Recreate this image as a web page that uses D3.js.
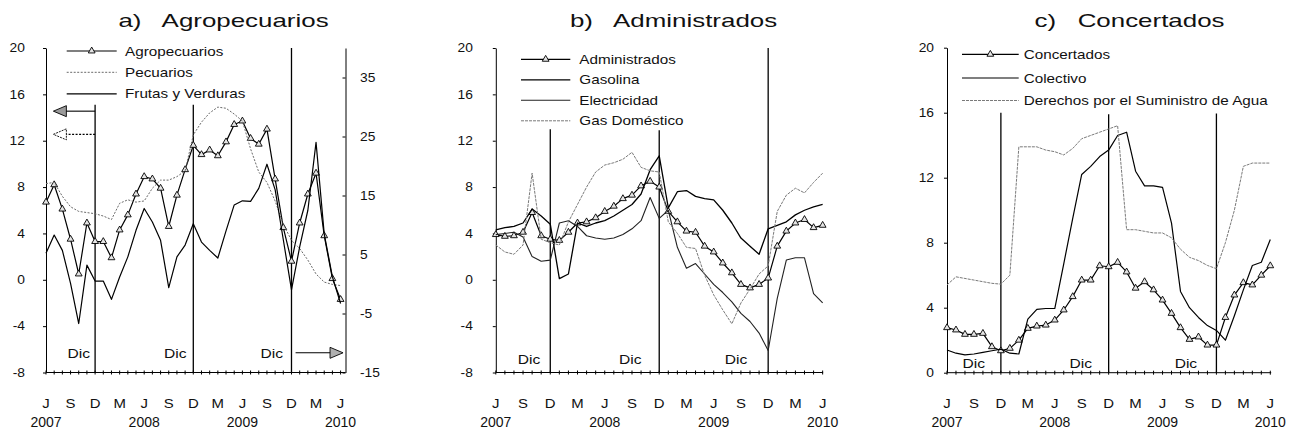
<!DOCTYPE html>
<html>
<head>
<meta charset="utf-8">
<script src="https://cdn.jsdelivr.net/npm/d3@7"></script>
<style>
body { margin:0; background:#fff; }
text { font-family:"Liberation Sans", Arial, sans-serif; fill:#111; }
</style>
</head>
<body>
<div class="page"></div>
<script>
// meses: junio 2007 a junio 2010
var meses = ['jun-07','jul-07','ago-07','sep-07','oct-07','nov-07','dic-07',
  'ene-08','feb-08','mar-08','abr-08','may-08','jun-08','jul-08','ago-08','sep-08','oct-08','nov-08','dic-08',
  'ene-09','feb-09','mar-09','abr-09','may-09','jun-09','jul-09','ago-09','sep-09','oct-09','nov-09','dic-09',
  'ene-10','feb-10','mar-10','abr-10','may-10','jun-10'];
var mesTicks = ['J','S','D','M','J','S','D','M','J','S','D','M','J'];
var anios = ['2007','2008','2009','2010'];
var anioMes = ['jun-07','jun-08','jun-09','jun-10'];
var diciembres = ['dic-07','dic-08','dic-09'];

// a) Agropecuarios
var agropecuarios = [6.7,8.2,6.1,3.5,0.5,4.9,3.3,3.3,1.9,4.3,5.6,7.4,8.9,8.7,7.9,4.6,7.3,9.5,11.6,10.8,
  11.2,10.7,11.9,13.4,13.7,12.2,11.7,13.0,8.7,4.5,1.6,4.9,7.4,9.2,3.8,0.1,-1.7];
var pecuarios = [8.3,8.4,7.2,6.3,5.9,5.8,5.7,5.5,5.2,6.6,6.9,6.7,6.8,7.9,8.6,8.6,8.9,9.4,12.5,13.6,
  14.4,14.9,14.8,14.3,13.7,11.3,9.3,8.4,6.8,4.8,3.4,2.7,1.7,0.5,-0.2,-0.4,-0.5];
var frutas = [5.2,8.3,5.7,0.1,-6.7,3.2,0.5,0.5,-2.6,1.2,4.6,9.1,12.8,10.5,7.4,-0.6,4.6,6.6,10.2,7.1,
  5.7,4.4,9.0,13.4,14.1,14.0,16.2,20.3,16.0,7.5,-1.0,6.3,12.5,24.0,8.5,1.2,-3.3];

// b) Administrados
var administrados = [3.9,3.75,3.8,4.1,5.8,3.8,3.5,3.4,4.1,4.9,5.0,5.35,5.9,6.35,7.0,7.3,8.1,8.5,8.0,5.9,
  5.0,4.2,4.1,2.9,2.4,1.45,0.6,-0.4,-0.7,-0.4,0.15,2.9,4.2,4.9,5.2,4.5,4.7];
var gasolina = [4.3,4.5,4.6,4.9,6.1,5.5,4.8,0.1,0.5,4.9,4.6,4.9,5.1,5.5,6.0,6.5,7.4,9.5,10.7,6.2,
  7.6,7.7,7.2,7.0,6.9,6.0,4.9,3.6,2.9,2.2,4.4,4.7,5.0,5.6,6.0,6.3,6.5];
var electricidad = [3.9,4.0,4.1,3.7,2.0,1.6,1.7,4.9,5.1,4.6,3.8,3.6,3.5,3.6,3.9,4.4,5.1,7.1,5.3,6.0,
  2.8,1.0,1.4,0.5,-0.4,-1.1,-1.9,-2.9,-3.6,-4.6,-6.1,-1.6,1.7,1.9,1.9,-1.2,-2.0];
var gasDomestico = [3.0,2.4,2.2,3.0,9.2,3.5,3.2,3.0,5.0,6.5,8.0,9.3,9.9,10.1,10.4,11.0,9.7,9.4,9.3,5.0,
  4.0,2.8,2.7,0.4,-1.3,-2.6,-3.8,-2.0,-0.8,0.5,1.2,5.9,7.3,7.9,7.5,8.4,9.2];

// c) Concertados
var concertados = [2.77,2.63,2.36,2.36,2.42,1.6,1.35,1.5,2.0,2.73,2.87,2.93,3.24,3.86,4.68,5.7,5.7,6.58,6.52,6.79,
  6.2,5.2,5.6,5.1,4.47,3.65,2.77,2.05,2.2,1.7,1.7,3.4,4.78,5.54,5.4,6.0,6.58];
var colectivo = [1.4,1.2,1.1,1.15,1.25,1.35,1.45,1.2,1.15,3.3,3.9,3.95,3.95,6.7,9.5,12.2,12.7,13.3,13.7,14.6,
  14.8,12.4,11.5,11.5,11.4,9.2,5.0,4.0,3.4,2.9,2.6,2.0,3.5,5.1,6.6,6.8,8.2];
var agua = [5.4,5.9,5.8,5.7,5.6,5.5,5.45,6.0,13.9,13.9,13.9,13.7,13.6,13.4,13.8,14.4,14.6,14.8,15.0,15.2,
  8.8,8.8,8.7,8.6,8.6,8.3,7.6,7.1,6.9,6.6,6.4,8.0,10.0,12.7,12.9,12.9,12.9];

var W = 1293, H = 431;
var svg = d3.select('.page').append('svg').attr('width', W).attr('height', H);

function sText(g, x, y, s, size, sx, anchor) {
  return g.append('text')
    .attr('transform', 'translate(' + x + ',' + y + ') scale(' + sx + ',1)')
    .attr('text-anchor', anchor || 'start')
    .attr('xml:space', 'preserve')
    .style('white-space', 'pre')
    .style('font-size', size + 'px')
    .text(s);
}

var tri = d3.symbol().type(d3.symbolTriangle).size(20);

function panel(p) {
  var g = svg.append('g');
  var x = d3.scaleLinear().domain([0, p.xEnd]).range([p.x0, p.x1]);
  var y = d3.scaleLinear().domain(p.yDom).range([p.yBot, p.yTop]);

  sText(g, p.titleX, 27.3, p.title, 18.5, 1.4, 'middle');

  // eje y
  var ya = g.append('g').attr('transform', 'translate(' + p.x0 + ',0)')
    .call(d3.axisLeft(y).tickValues(p.yTicks).tickSize(3).tickSizeOuter(0)
      .tickPadding(p.pad).tickFormat(function(d) { return String(d); }));
  ya.attr('font-size', 12).attr('font-family', '"Liberation Sans", Arial, sans-serif');
  ya.selectAll('text').attr('transform', 'scale(1.15,1)').attr('fill', '#111');
  ya.select('.domain').attr('stroke', '#000');

  // eje x
  g.append('line').attr('x1', x(0)).attr('x2', x(p.xEnd))
    .attr('y1', p.yBot).attr('y2', p.yBot).attr('stroke', '#000');
  g.selectAll('.mt').data(meses).enter().append('line')
    .attr('x1', function(d, i) { return x(i); }).attr('x2', function(d, i) { return x(i); })
    .attr('y1', p.yBot - 2).attr('y2', p.yBot + 2).attr('stroke', '#000');
  mesTicks.forEach(function(t, i) {
    sText(g, x(i * 3), 408.3, t, 13, 1.15, 'middle');
  });
  anios.forEach(function(a, i) {
    sText(g, x(meses.indexOf(anioMes[i])), 426.5, a, 14, 1.0, 'middle');
  });

  // lineas de diciembre
  diciembres.forEach(function(m, i) {
    g.append('line').attr('x1', x(meses.indexOf(m))).attr('x2', x(meses.indexOf(m)))
      .attr('y1', y(p.decTop[i])).attr('y2', p.yBot)
      .attr('stroke', '#000').attr('stroke-width', 1.3);
    sText(g, x(p.dic[i]), y(p.dicY), 'Dic', 13, 1.2, 'middle');
  });

  // series
  p.series.forEach(function(s) {
    var ys = s.yScale || y;
    var line = d3.line().x(function(d, i) { return x(i); }).y(function(d) { return ys(d); });
    g.append('path').datum(s.vals).attr('d', line)
      .attr('fill', 'none').attr('stroke', s.stroke).attr('stroke-width', s.width)
      .attr('stroke-dasharray', s.dash || null).attr('stroke-linejoin', 'round');
    if (s.tri) {
      g.selectAll('.tri').data(s.vals).enter().append('path')
        .attr('d', tri)
        .attr('transform', function(d, i) { return 'translate(' + x(i) + ',' + ys(d) + ')'; })
        .attr('fill', '#e4e4e4').attr('stroke', '#000').attr('stroke-width', 0.9);
    }
  });

  // leyenda
  p.series.forEach(function(s, i) {
    var ly = p.legY[i];
    g.append('line').attr('x1', p.lx0).attr('x2', p.lx1).attr('y1', ly).attr('y2', ly)
      .attr('stroke', s.stroke).attr('stroke-width', s.width).attr('stroke-dasharray', s.dash || null);
    if (s.tri) {
      g.append('path').attr('d', tri)
        .attr('transform', 'translate(' + ((p.lx0 + p.lx1) / 2) + ',' + ly + ')')
        .attr('fill', '#e4e4e4').attr('stroke', '#000').attr('stroke-width', 0.9);
    }
    sText(g, p.tx, ly + 4.6, s.name, 12.5, 1.22, 'start');
  });

  return { g: g, x: x, y: y };
}

// panel a
var yRight = d3.scaleLinear().domain([-15, 40]).range([372.5, 48]);
var pa = panel({
  title: 'a)   Agropecuarios', titleX: 223.5,
  x0: 46, x1: 345.5, xEnd: 36.6,
  yDom: [-8, 20], yBot: 372.5, yTop: 48, yTicks: [-8, -4, 0, 4, 8, 12, 16, 20], pad: 15.3,
  decTop: [15.1, 15.1, 20], dic: [4.0, 15.8, 27.6], dicY: -6.78,
  lx0: 66.7, lx1: 116.7, tx: 125, legY: [51, 72.3, 93.8],
  series: [
    { name: 'Agropecuarios', vals: agropecuarios, stroke: '#000', width: 1.2, tri: true },
    { name: 'Pecuarios', vals: pecuarios, stroke: '#6a6a6a', width: 1, dash: '2,1.5' },
    { name: 'Frutas y Verduras', vals: frutas, stroke: '#000', width: 1.2, yScale: yRight }
  ]
});
var ra = pa.g.append('g').attr('transform', 'translate(' + pa.x(36.6) + ',0)')
  .call(d3.axisRight(yRight).tickValues([-15, -5, 5, 15, 25, 35]).tickSizeInner(-3).tickSizeOuter(0)
    .tickPadding(12.6).tickFormat(function(d) { return String(d); }));
ra.attr('font-size', 12).attr('font-family', '"Liberation Sans", Arial, sans-serif');
ra.selectAll('text').attr('transform', 'scale(1.15,1)').attr('fill', '#111');
ra.select('.domain').attr('stroke', '#000');

// flechas del panel a
function arrow(g, x1, x2, yy, dash, headFill, headDash) {
  var dir = x2 > x1 ? -1 : 1;
  g.append('line').attr('x1', x1).attr('x2', x2 + dir * 12).attr('y1', yy).attr('y2', yy)
    .attr('stroke', '#000').attr('stroke-width', 1.1).attr('stroke-dasharray', dash || null);
  g.append('path')
    .attr('d', 'M' + x2 + ',' + yy + 'L' + (x2 + dir * 13) + ',' + (yy - 5.5) + 'L' + (x2 + dir * 13) + ',' + (yy + 5.5) + 'Z')
    .attr('fill', headFill).attr('stroke', '#000').attr('stroke-width', 0.9)
    .attr('stroke-dasharray', headDash || null);
}
arrow(pa.g, pa.x(6), pa.x(0.9), pa.y(14.55), null, '#9a9a9a');
arrow(pa.g, pa.x(6), pa.x(0.9), pa.y(12.55), '2,1.5', '#fff', '2,1');
arrow(pa.g, pa.x(30.5), pa.x(36.3), pa.y(-6.3), null, '#b0b0b0');

// panel b
panel({
  title: 'b)   Administrados', titleX: 673.5,
  x0: 495.8, x1: 823.1, xEnd: 36.05,
  yDom: [-8, 20], yBot: 372.5, yTop: 48, yTicks: [-8, -4, 0, 4, 8, 12, 16, 20], pad: 17,
  decTop: [13.0, 12.9, 20], dic: [3.66, 14.8, 26.45], dicY: -7.27,
  lx0: 521, lx1: 570.3, tx: 579.3, legY: [59.3, 79.8, 100.3, 120.8],
  series: [
    { name: 'Administrados', vals: administrados, stroke: '#000', width: 1.2, tri: true },
    { name: 'Gasolina', vals: gasolina, stroke: '#000', width: 1.3 },
    { name: 'Electricidad', vals: electricidad, stroke: '#222', width: 1.1 },
    { name: 'Gas Doméstico', vals: gasDomestico, stroke: '#7a7a7a', width: 1, dash: '3,1' }
  ]
});

// panel c
panel({
  title: 'c)   Concertados', titleX: 1129.5,
  x0: 947, x1: 1271.2, xEnd: 36.1,
  yDom: [0, 20], yBot: 372.7, yTop: 47.7, yTicks: [0, 4, 8, 12, 16, 20], pad: 8.3,
  decTop: [16.0, 15.9, 15.95], dic: [2.97, 14.9, 26.6], dicY: 0.31,
  lx0: 962, lx1: 1018.7, tx: 1023.7, legY: [54.3, 78, 100.5],
  series: [
    { name: 'Concertados', vals: concertados, stroke: '#000', width: 1.2, tri: true },
    { name: 'Colectivo', vals: colectivo, stroke: '#000', width: 1.2 },
    { name: 'Derechos por el Suministro de Agua', vals: agua, stroke: '#7a7a7a', width: 1, dash: '3,1' }
  ]
});
</script>
</body>
</html>
